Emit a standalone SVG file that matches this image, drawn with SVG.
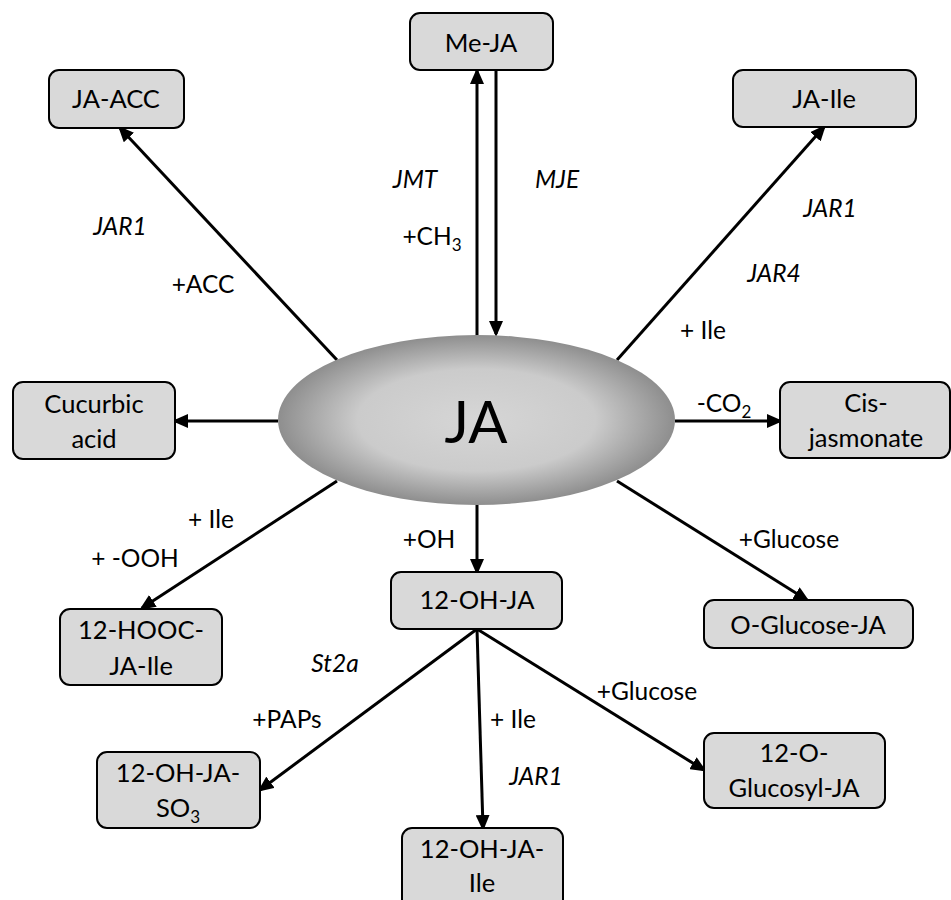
<svg xmlns="http://www.w3.org/2000/svg" width="951" height="900" viewBox="0 0 951 900">
<style>
text{font-family:Lato,"Open Sans","Liberation Sans",sans-serif;fill:#000;}
.box{fill:#d9d9d9;stroke:#000;stroke-width:2;}
.bt{font-size:25.5px;text-anchor:middle;}
.lb{font-size:24.5px;text-anchor:middle;}
.it{font-style:italic;}
.ar{stroke:#000;stroke-width:3;fill:none;marker-end:url(#ah);}
.sub{font-size:17px;}
</style>
<defs>
<marker id="ah" markerUnits="userSpaceOnUse" markerWidth="16" markerHeight="14" viewBox="0 0 16 14" refX="13" refY="7" orient="auto">
<path d="M0,0 L16,7 L0,14 z" fill="#000"/>
</marker>
<radialGradient id="g" cx="0.5" cy="0.5" r="0.5">
<stop offset="0" stop-color="#d6d6d6"/>
<stop offset="0.6" stop-color="#cbcbcb"/>
<stop offset="1" stop-color="#8e8e8e"/>
</radialGradient>
</defs>
<g id="connectors">
<line class="ar" x1="477" y1="335" x2="477" y2="71"/>
<line class="ar" x1="496" y1="70" x2="496" y2="334"/>
<line class="ar" x1="337" y1="360" x2="120" y2="128"/>
<line class="ar" x1="617" y1="360" x2="824" y2="127"/>
<line class="ar" x1="278" y1="421" x2="175" y2="421"/>
<line class="ar" x1="675" y1="421" x2="780" y2="421"/>
<line class="ar" x1="337" y1="481" x2="142" y2="608"/>
<line class="ar" x1="617" y1="481" x2="807" y2="600"/>
<line class="ar" x1="477" y1="505" x2="477" y2="572"/>
<line class="ar" x1="477" y1="629" x2="260" y2="790"/>
<line class="ar" x1="477" y1="629" x2="483" y2="828"/>
<line class="ar" x1="477" y1="629" x2="704" y2="770"/>
</g>
<g id="labels">
<text class="lb it" x="415" y="188">JMT</text>
<text class="lb it" x="557" y="188">MJE</text>
<text class="lb" x="432" y="245">+CH<tspan class="sub" dy="6">3</tspan></text>
<text class="lb it" x="120" y="235">JAR1</text>
<text class="lb" x="203" y="293">+ACC</text>
<text class="lb it" x="830" y="217">JAR1</text>
<text class="lb it" x="774" y="282">JAR4</text>
<text class="lb" x="703" y="339">+ Ile</text>
<text class="lb" x="724" y="412">-CO<tspan class="sub" dy="6">2</tspan></text>
<text class="lb" x="789" y="548">+Glucose</text>
<text class="lb" x="211" y="528">+ Ile</text>
<text class="lb" x="135" y="567">+ -OOH</text>
<text class="lb" x="429" y="548">+OH</text>
<text class="lb it" x="335" y="672">St2a</text>
<text class="lb" x="287" y="728">+PAPs</text>
<text class="lb" x="513" y="728">+ Ile</text>
<text class="lb it" x="536" y="785">JAR1</text>
<text class="lb" x="647" y="700">+Glucose</text>
</g>
<g id="JA">
<ellipse cx="476.5" cy="420" rx="198.5" ry="85" fill="url(#g)"/>
<text x="476" y="443" style="font-size:58px;text-anchor:middle">JA</text>
</g>
<g id="MeJA"><rect class="box" x="410" y="13" width="143" height="57" rx="10"/><text class="bt" x="481" y="52">Me-JA</text></g>
<g id="JAACC"><rect class="box" x="49" y="70" width="135" height="58" rx="10"/><text class="bt" x="116" y="108">JA-ACC</text></g>
<g id="JAIle"><rect class="box" x="733" y="70" width="183" height="57" rx="10"/><text class="bt" x="824" y="108">JA-Ile</text></g>
<g id="Cucurbic"><rect class="box" x="13" y="382" width="162" height="77" rx="10"/><text class="bt" x="94" y="413">Cucurbic</text><text class="bt" x="94" y="448">acid</text></g>
<g id="Cis"><rect class="box" x="780" y="382" width="170" height="76" rx="10"/><text class="bt" x="866" y="412">Cis-</text><text class="bt" x="866" y="447">jasmonate</text></g>
<g id="HOOC"><rect class="box" x="60" y="609" width="162" height="76" rx="10"/><text class="bt" x="141" y="639">12-HOOC-</text><text class="bt" x="141" y="675">JA-Ile</text></g>
<g id="OHJA"><rect class="box" x="391" y="572" width="171" height="57" rx="10"/><text class="bt" x="477" y="609">12-OH-JA</text></g>
<g id="OGlucoseJA"><rect class="box" x="704" y="600" width="209" height="48" rx="10"/><text class="bt" x="808" y="634">O-Glucose-JA</text></g>
<g id="SO3"><rect class="box" x="97" y="752" width="163" height="76" rx="10"/><text class="bt" x="178" y="782">12-OH-JA-</text><text class="bt" x="178" y="817">SO<tspan class="sub" dy="6">3</tspan></text></g>
<g id="Glucosyl"><rect class="box" x="704" y="733" width="181" height="75" rx="10"/><text class="bt" x="794" y="762">12-O-</text><text class="bt" x="794" y="797">Glucosyl-JA</text></g>
<g id="OHJAIle"><rect class="box" x="402" y="828" width="161" height="90" rx="10"/><text class="bt" x="482" y="858">12-OH-JA-</text><text class="bt" x="482" y="892">Ile</text></g>
</svg>
